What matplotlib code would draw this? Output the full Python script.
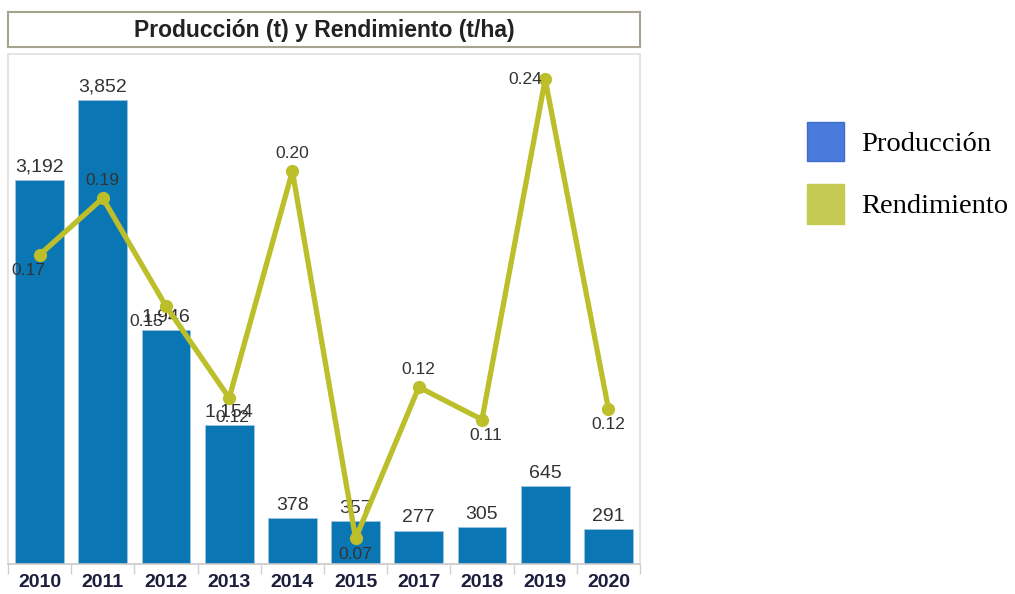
import matplotlib
matplotlib.use("Agg")
import matplotlib.pyplot as plt
from matplotlib.patches import Patch
import numpy as np

years = ["2010", "2011", "2012", "2013", "2014", "2015", "2017", "2018", "2019", "2020"]
produccion = [3192, 3852, 1946, 1154, 378, 357, 277, 305, 645, 291]
rendimiento = [0.173, 0.194, 0.154, 0.120, 0.204, 0.068, 0.124, 0.112, 0.238, 0.116]

W, H = 1015, 594
fig = plt.figure(figsize=(W / 100, H / 100), dpi=100)

def fx(px):
    return px / W

def fy(py):
    return 1 - py / H

sans = ["Liberation Sans", "DejaVu Sans"]

# main axes
left, right, top, bottom = 8, 640, 54, 564
ax = fig.add_axes([fx(left), fy(bottom), fx(right - left), (bottom - top) / H])
x = np.arange(len(years))
bar_color = "#0a77b4"
ax.bar(x, produccion, width=0.77, color=bar_color, edgecolor="#9cc4de", linewidth=0.6, zorder=2)
ax.set_xlim(-0.5, len(years) - 0.5)
ax.set_ylim(0, 4234)
ax.set_yticks([])
ax.set_xticks(x)
ax.set_xticklabels(years, fontsize=14, fontweight="bold", color="#1c1c3c", family=sans)
ax.tick_params(axis="x", length=0, pad=7)
ax.set_xticks(np.arange(-0.5, len(years), 1), minor=True)
ax.tick_params(axis="x", which="minor", length=7, color="#d0d0d0", width=1)
for s in ["top", "left", "right"]:
    ax.spines[s].set_color("#e0e0e0")
    ax.spines[s].set_linewidth(1.2)
ax.spines["bottom"].set_color("#c8c8c8")
ax.spines["bottom"].set_linewidth(1.2)

for xi, v in zip(x, produccion):
    ax.annotate(f"{v:,}", (xi, v), xytext=(0, 3), textcoords="offset points",
                ha="center", va="bottom", fontsize=14, color="#333333",
                family=sans, zorder=5)

ax2 = ax.twinx()
ax2.set_ylim(0.0585, 0.2474)
ax2.set_yticks([])
for s in ax2.spines.values():
    s.set_visible(False)
line_color = "#bcbf2a"
ax2.plot(x, rendimiento, color=line_color, linewidth=3.8, marker="o", markersize=8.5,
         solid_capstyle="round", zorder=3)

# label offsets (points): (dx, dy, ha, va)
offsets = [
    (-8, -6, "center", "top"),   # 2010
    (0, 7, "center", "bottom"),  # 2011
    (-14, -6, "center", "top"),  # 2012
    (2, -9, "center", "top"),    # 2013
    (0, 7, "center", "bottom"),  # 2014
    (0, -6, "center", "top"),    # 2015
    (0, 7, "center", "bottom"),  # 2017
    (3, -6, "center", "top"),    # 2018
    (-2, 0, "right", "center"),  # 2019
    (0, -6, "center", "top"),    # 2020
]
for xi, v, (dx, dy, ha, va) in zip(x, rendimiento, offsets):
    ax2.annotate(f"{v:.2f}", (xi, v), xytext=(dx, dy), textcoords="offset points",
                 ha=ha, va=va, fontsize=12.5, color="#333333", family=sans, zorder=6)

# title box
tax = fig.add_axes([fx(8), fy(47), fx(632), 35 / H])
tax.set_xticks([])
tax.set_yticks([])
for s in tax.spines.values():
    s.set_color("#a7a391")
    s.set_linewidth(1.5)
tax.text(0.5, 0.47, "Producción (t) y Rendimiento (t/ha)", ha="center", va="center",
         fontsize=16.5, fontweight="bold", color="#222222", family=sans,
         transform=tax.transAxes)

# legend
handles = [Patch(facecolor="#4a7bdc", edgecolor="#3f6fcc", label="Producción"),
           Patch(facecolor="#c5ca52", edgecolor="#c5ca52", label="Rendimiento")]
fig.legend(handles=handles, loc="upper left", bbox_to_anchor=(fx(807), fy(122)),
           frameon=False, prop={"family": "Liberation Serif", "size": 20.5},
           handlelength=1.3, handleheight=1.75, handletextpad=0.6, labelspacing=0.8,
           borderpad=0, borderaxespad=0)

fig.savefig("out.png", dpi=100)
